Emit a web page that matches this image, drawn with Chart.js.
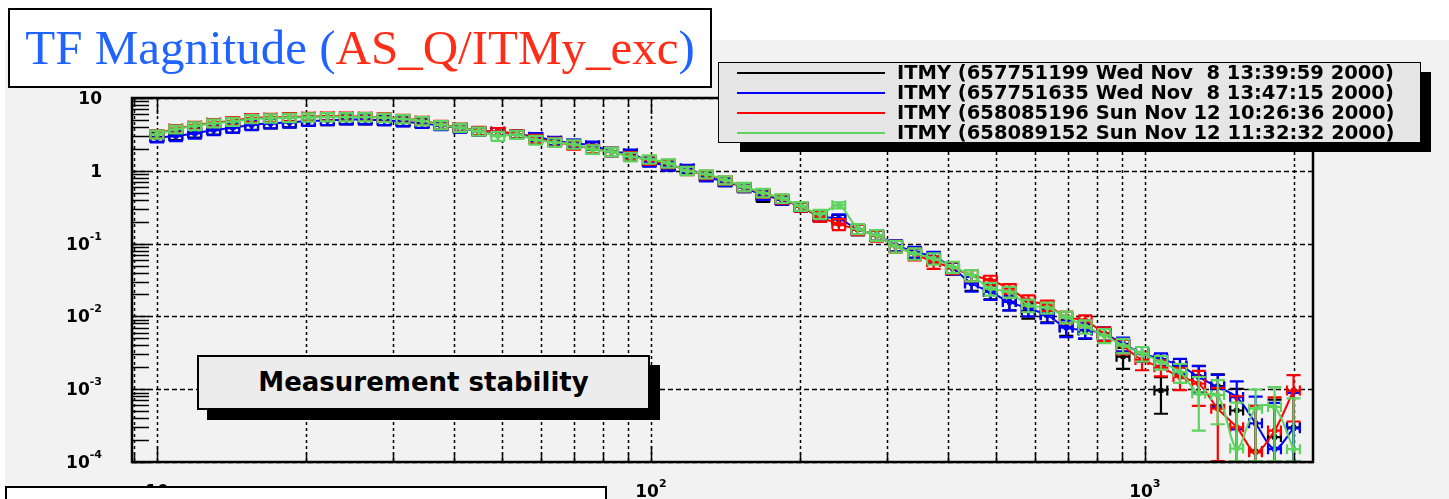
<!DOCTYPE html>
<html>
<head>
<meta charset="utf-8">
<script src="https://cdn.jsdelivr.net/npm/chart.js@4"></script>
<style>
  body { margin: 0; background: #fff; }
  #wrap { position: relative; width: 1449px; height: 499px; overflow: hidden; }
  canvas { position: absolute; left: 0; top: 0; }
  .pane { position: absolute; box-sizing: border-box; border: 2px solid #000; }
  .shadow { position: absolute; background: #000; }
  #title { left: 8px; top: 8px; width: 704px; height: 80px; background: #fff;
    font: 49px "Liberation Serif", serif; line-height: 76px; text-align: center; white-space: pre; }
  #legend { left: 718px; top: 62px; width: 703px; height: 81px; background: #e6e6e6; border-width: 1.5px; }
  .row { position: absolute; left: 0; width: 100%; height: 20px; }
  .row b { position: absolute; left: 18px; width: 148px; top: 9px; height: 2px; }
  .row span { position: absolute; left: 178px; top: 0; font: bold 19.5px "DejaVu Sans", sans-serif;
    line-height: 20px; white-space: pre; color: #000; }
  #stab { left: 197px; top: 355px; width: 453px; height: 55px; background: #ececec;
    font: bold 26px "DejaVu Sans", sans-serif; line-height: 51px; text-align: center; }
  #bottomBox { left: 5px; top: 486px; width: 602px; height: 30px; background: #fff; }
</style>
</head>
<body>
<div id="wrap">
  <canvas id="tf" width="1449" height="499"></canvas>
  <div class="pane" id="title"><span style="color:#2163ff">TF Magnitude (</span><span style="color:#ff2d17">AS_Q/ITMy_exc</span><span style="color:#2163ff">)</span></div>
  <div class="shadow" style="left:740px;top:72px;width:691px;height:80px"></div>
  <div class="pane" id="legend"></div>
  <div class="shadow" style="left:207px;top:365px;width:453px;height:55px"></div>
  <div class="pane" id="stab">Measurement stability</div>
  <div class="pane" id="bottomBox"></div>
</div>
<script>
// frequencies (Hz) of the swept sine points
var freqs = [10.0, 10.92, 11.93, 13.03, 14.24, 15.55, 16.98, 18.55, 20.27, 22.14,
  24.18, 26.41, 28.85, 31.51, 34.42, 37.60, 41.07, 44.86, 49.01, 53.53,
  58.48, 63.87, 69.77, 76.21, 83.25, 90.94, 99.33, 108.5, 118.5, 129.5,
  141.4, 154.5, 168.7, 184.3, 201.3, 219.9, 240.2, 262.4, 286.6, 313.1,
  342.0, 373.6, 408.1, 445.8, 486.9, 531.9, 581.0, 634.6, 693.2, 757.2,
  827.1, 903.5, 986.9, 1078, 1178, 1286, 1405, 1535, 1676, 1831, 2000];

var itmy1199 = [2.9, 3.1, 3.35, 3.7, 3.95, 4.3, 4.5, 4.65, 4.85, 4.95,
  5.05, 5.05, 4.95, 4.75, 4.5, 4.2, 3.87, 3.5, 3.44, 3.2,
  2.9, 2.58, 2.36, 2.2, 1.83, 1.72, 1.35, 1.18, 1.06, 0.84,
  0.71, 0.59, 0.44, 0.40, 0.32, 0.236, 0.215, 0.156, 0.131, 0.094,
  0.076, 0.064, 0.046, 0.029, 0.022, 0.0158, 0.0121, 0.0106, 0.0072, 0.0064,
  0.0058, 0.0028, 0.0031, 0.00096, 0.0021, 0.0015, 0.0011, 0.00051, 0.00014, 0.00022, 0.0003];

var itmy1635 = [2.85, 3.0, 3.27, 3.63, 3.91, 4.26, 4.49, 4.63, 4.83, 4.94,
  5.04, 5.04, 4.94, 4.73, 4.49, 4.17, 3.85, 3.5, 3.44, 3.2,
  2.94, 2.59, 2.38, 2.25, 1.83, 1.74, 1.33, 1.17, 1.08, 0.83,
  0.71, 0.59, 0.464, 0.40, 0.32, 0.235, 0.22, 0.156, 0.131, 0.095,
  0.077, 0.066, 0.046, 0.0283, 0.0217, 0.0158, 0.0128, 0.0104, 0.0070, 0.0065,
  0.0058, 0.0042, 0.0031, 0.0026, 0.00212, 0.00147, 0.00107, 0.00078, 0.00034, 0.00015, 0.00029];

var itmy5196 = [3.2, 3.8, 4.2, 4.6, 4.85, 5.3, 5.4, 5.5, 5.55, 5.6,
  5.6, 5.55, 5.45, 5.2, 4.9, 4.3, 3.95, 3.55, 3.44, 3.2,
  2.75, 2.5, 2.25, 2.0, 1.83, 1.6, 1.40, 1.25, 1.0, 0.88,
  0.74, 0.6, 0.49, 0.41, 0.32, 0.235, 0.185, 0.156, 0.128, 0.092,
  0.072, 0.056, 0.0465, 0.0368, 0.0314, 0.0241, 0.0166, 0.0142, 0.0098, 0.0088,
  0.0058, 0.0039, 0.00252, 0.0020, 0.00147, 0.00119, 0.00054, 0.00030, 0.000136, 0.00027, 0.00096];

var itmy9152 = [3.17, 3.72, 4.12, 4.49, 4.73, 5.15, 5.26, 5.37, 5.43, 5.48,
  5.48, 5.48, 5.37, 5.15, 4.83, 4.26, 3.91, 3.48, 3.0, 3.15,
  2.65, 2.46, 2.31, 1.97, 1.83, 1.56, 1.44, 1.27, 1.0, 0.90,
  0.745, 0.603, 0.498, 0.417, 0.327, 0.254, 0.337, 0.16, 0.131, 0.092,
  0.073, 0.0624, 0.0478, 0.0368, 0.0241, 0.0217, 0.0142, 0.0132, 0.0098, 0.0073,
  0.0055, 0.0040, 0.0031, 0.00236, 0.00172, 0.00087, 0.00083, 0.000153, 0.00054, 0.00057, 0.00015];

// y error (absolute) per frequency point
var yErr = [0.4, 0.45, 0.5, 0.55, 0.6, 0.65, 0.68, 0.7, 0.7, 0.7,
  0.7, 0.7, 0.7, 0.66, 0.62, 0.55, 0.5, 0.45, 0.43, 0.4,
  0.36, 0.33, 0.3, 0.27, 0.24, 0.21, 0.19, 0.165, 0.13, 0.115,
  0.095, 0.08, 0.066, 0.056, 0.045, 0.036, 0.032, 0.025, 0.022, 0.017,
  0.013, 0.011, 0.0085, 0.0065, 0.0048, 0.0037, 0.0028, 0.0023, 0.0018, 0.0015,
  0.0012, 0.0009, 0.0007, 0.0005, 0.0005, 0.0006, 0.0005, 0.0005, 0.00045, 0.0005, 0.0006];
var xErrFrac = 0.03;

var seriesLabels = [
  "ITMY (657751199 Wed Nov  8 13:39:59 2000)",
  "ITMY (657751635 Wed Nov  8 13:47:15 2000)",
  "ITMY (658085196 Sun Nov 12 10:26:36 2000)",
  "ITMY (658089152 Sun Nov 12 11:32:32 2000)"
];
var seriesColors = ["#000000", "#0000ff", "#ff0000", "#5fd35f"];
var seriesValues = [itmy1199, itmy1635, itmy5196, itmy9152];

var yTickVals = [10, 1, 0.1, 0.01, 0.001, 0.0001];
var yTickBase = ["10", "1", "10", "10", "10", "10"];
var yTickExp = ["", "", "-1", "-2", "-3", "-4"];
var xTickVals = [10, 100, 1000];
var xTickBase = ["10", "10", "10"];
var xTickExp = ["", "2", "3"];

// legend rows
var leg = document.getElementById("legend");
seriesLabels.forEach(function (lab, i) {
  var r = document.createElement("div");
  r.className = "row";
  r.style.top = (0 + i * 20) + "px";
  var ln = document.createElement("b");
  ln.style.background = seriesColors[i];
  var tx = document.createElement("span");
  tx.textContent = lab;
  r.appendChild(ln);
  r.appendChild(tx);
  leg.appendChild(r);
});

function logValues(lo, hi) {
  var out = [];
  for (var e = -5; e <= 4; e++) {
    for (var m = 1; m <= 9; m++) {
      var v = m * Math.pow(10, e);
      if (v >= lo * 0.9999 && v <= hi * 1.0001) out.push({ v: v, major: m === 1 });
    }
  }
  return out;
}

function drawLabel(ctx, base, exp, x, y, align) {
  ctx.font = "bold 17px 'DejaVu Sans'";
  var wb = ctx.measureText(base).width;
  ctx.font = "bold 11px 'DejaVu Sans'";
  var we = exp ? ctx.measureText(exp).width : 0;
  var left = align === "right" ? x - wb - we : x - (wb + we) / 2;
  ctx.textAlign = "left";
  ctx.textBaseline = "alphabetic";
  ctx.font = "bold 17px 'DejaVu Sans'";
  ctx.fillText(base, left, y);
  if (exp) {
    ctx.font = "bold 11px 'DejaVu Sans'";
    ctx.fillText(exp, left + wb, y - 10);
  }
}

var rootFrame = {
  id: "rootFrame",
  beforeDraw: function (chart) {
    var ctx = chart.ctx, a = chart.chartArea, xs = chart.scales.x, ys = chart.scales.y;
    ctx.save();
    ctx.fillStyle = "#f2f2f2";
    ctx.fillRect(5, 40, chart.width - 5, chart.height - 40);
    ctx.strokeStyle = "#000";
    ctx.lineWidth = 1.5;
    // vertical grid at every log step
    ctx.setLineDash([3, 3]);
    logValues(xs.min, xs.max).forEach(function (t) {
      var px = Math.round(xs.getPixelForValue(t.v)) + 0.5;
      ctx.beginPath();
      ctx.moveTo(px, a.top);
      ctx.lineTo(px, a.bottom);
      ctx.stroke();
    });
    // horizontal grid at decades
    ctx.setLineDash([5, 3]);
    yTickVals.forEach(function (v) {
      var py = Math.round(ys.getPixelForValue(v)) + 0.5;
      ctx.beginPath();
      ctx.moveTo(a.left, py);
      ctx.lineTo(a.right, py);
      ctx.stroke();
    });
    ctx.restore();
  },
  afterDatasetDraw: function (chart, args) {
    var ds = chart.data.datasets[args.index];
    var ctx = chart.ctx, a = chart.chartArea, xs = chart.scales.x, ys = chart.scales.y;
    ctx.save();
    ctx.beginPath();
    ctx.rect(a.left, a.top, a.right - a.left, a.bottom - a.top);
    ctx.clip();
    ctx.strokeStyle = ds.borderColor;
    ctx.lineWidth = 2.2;
    ds.data.forEach(function (p, i) {
      var e = yErr[i];
      var px = xs.getPixelForValue(p.x), py = ys.getPixelForValue(p.y);
      var top = ys.getPixelForValue(p.y + e);
      var lo = p.y - e > ys.min ? ys.getPixelForValue(p.y - e) : a.bottom - 1;
      var xl = xs.getPixelForValue(p.x * (1 - xErrFrac));
      var xr = xs.getPixelForValue(p.x * (1 + xErrFrac));
      ctx.beginPath();
      ctx.moveTo(px, top); ctx.lineTo(px, lo);
      ctx.moveTo(px - 7, top); ctx.lineTo(px + 7, top);
      ctx.moveTo(px - 7, lo); ctx.lineTo(px + 7, lo);
      ctx.moveTo(xl, py); ctx.lineTo(xr, py);
      ctx.moveTo(xl, py - 5); ctx.lineTo(xl, py + 5);
      ctx.moveTo(xr, py - 5); ctx.lineTo(xr, py + 5);
      ctx.stroke();
    });
    ctx.restore();
  },
  afterDraw: function (chart) {
    var ctx = chart.ctx, a = chart.chartArea, xs = chart.scales.x, ys = chart.scales.y;
    ctx.save();
    ctx.strokeStyle = "#000";
    ctx.fillStyle = "#000";
    ctx.lineWidth = 1.5;
    // y ticks on the left
    logValues(ys.min, ys.max).forEach(function (t) {
      var py = Math.round(ys.getPixelForValue(t.v)) + 0.5;
      ctx.beginPath();
      ctx.moveTo(a.left, py);
      ctx.lineTo(a.left + 17, py);
      ctx.stroke();
    });
    // x ticks bottom and top
    logValues(xs.min, xs.max).forEach(function (t) {
      var px = Math.round(xs.getPixelForValue(t.v)) + 0.5;
      var len = t.major ? 16 : 9;
      ctx.beginPath();
      ctx.moveTo(px, a.bottom);
      ctx.lineTo(px, a.bottom - len);
      ctx.moveTo(px, a.top);
      ctx.lineTo(px, a.top + len);
      ctx.stroke();
    });
    ctx.lineWidth = 2.5;
    ctx.strokeRect(a.left, a.top, a.right - a.left, a.bottom - a.top);
    // labels
    yTickVals.forEach(function (v, i) {
      drawLabel(ctx, yTickBase[i], yTickExp[i], a.left - 30, ys.getPixelForValue(v) + 6, "right");
    });
    xTickVals.forEach(function (v, i) {
      drawLabel(ctx, xTickBase[i], xTickExp[i], xs.getPixelForValue(v), a.bottom + 35, "center");
    });
    ctx.restore();
  }
};

var datasets = seriesValues.map(function (vals, i) {
  return {
    label: seriesLabels[i],
    data: freqs.map(function (f, k) { return { x: f, y: vals[k] }; }),
    borderColor: seriesColors[i],
    backgroundColor: seriesColors[i],
    borderWidth: 2,
    showLine: i !== 0,
    pointStyle: "rect",
    pointRadius: 3.5,
    pointBorderWidth: 0,
    tension: 0.3,
    order: 4 - i
  };
});

new Chart(document.getElementById("tf").getContext("2d"), {
  type: "line",
  data: { datasets: datasets },
  options: {
    responsive: false,
    animation: false,
    devicePixelRatio: 1,
    layout: { padding: { left: 132, top: 98, right: 136, bottom: 37 } },
    scales: {
      x: { type: "logarithmic", min: 8.9, max: 2190, display: false },
      y: { type: "logarithmic", min: 0.0001, max: 10, display: false }
    },
    plugins: { legend: { display: false }, tooltip: { enabled: false } }
  },
  plugins: [rootFrame]
});
</script>
</body>
</html>
